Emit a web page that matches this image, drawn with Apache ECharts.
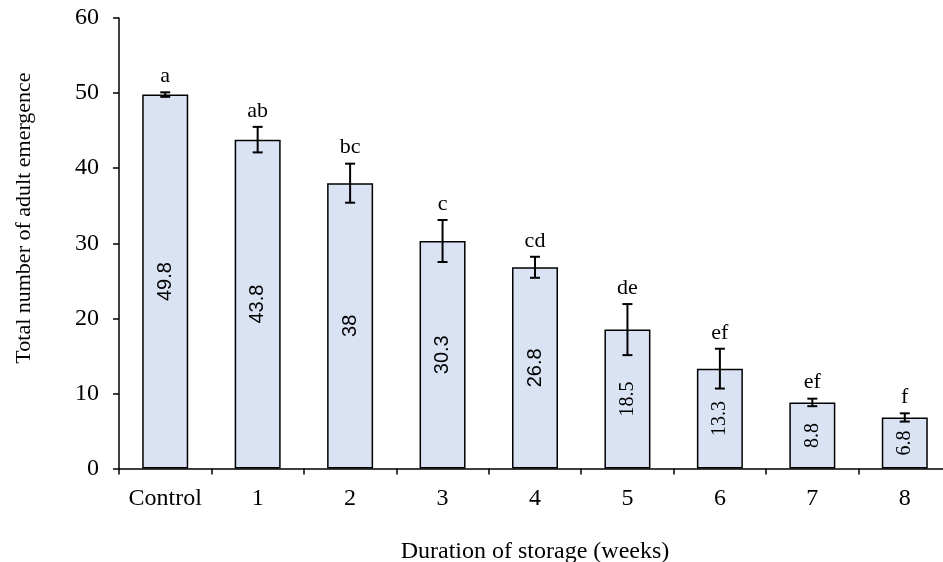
<!DOCTYPE html>
<html>
<head>
<meta charset="utf-8">
<script src="https://cdn.jsdelivr.net/npm/echarts@6/dist/echarts.min.js"></script>
<style>
html,body{margin:0;padding:0;background:#fff;}
#chart{width:943px;height:562px;}
</style>
</head>
<body>
<div id="chart"></div>
<script>
const categories = ['Control', '1', '2', '3', '4', '5', '6', '7', '8'];
const values = [49.8, 43.8, 38, 30.3, 26.8, 18.5, 13.3, 8.8, 6.8];
const errors = [0.3, 1.7, 2.6, 2.8, 1.4, 3.4, 2.65, 0.5, 0.55];
const letters = ['a', 'ab', 'bc', 'c', 'cd', 'de', 'ef', 'ef', 'f'];
const yTicks = [0, 10, 20, 30, 40, 50, 60];

const SERIF = '"Liberation Serif", "Times New Roman", serif';
const SANS = '"Liberation Sans", Arial, sans-serif';

const chart = echarts.init(document.getElementById('chart'), null, {renderer: 'canvas'});

const barData = values.map((v, i) => ({
  value: v,
  label: { fontFamily: i < 5 ? SANS : SERIF }
}));

const option = {
  animation: false,
  backgroundColor: '#ffffff',
  grid: { left: 119, right: -8, top: 18, bottom: 93.5, containLabel: false, outerBoundsMode: 'none' },
  xAxis: {
    type: 'category',
    data: categories,
    boundaryGap: true,
    axisLine: { show: true, lineStyle: { color: '#000', width: 1.5 } },
    axisTick: { show: true, inside: false, length: 6, interval: 0, alignWithLabel: false, lineStyle: { color: '#000', width: 1.5 } },
    axisLabel: { interval: 0, margin: 18, fontSize: 24, color: '#000', fontFamily: SERIF },
    name: 'Duration of storage (weeks)',
    nameLocation: 'middle',
    nameGap: 71,
    nameTextStyle: { fontSize: 24, color: '#000', fontFamily: SERIF },
    splitLine: { show: false }
  },
  yAxis: {
    type: 'value',
    min: yTicks[0],
    max: yTicks[yTicks.length - 1],
    interval: yTicks[1] - yTicks[0],
    axisLine: { show: true, lineStyle: { color: '#000', width: 1.5 } },
    axisTick: { show: true, inside: false, length: 6, lineStyle: { color: '#000', width: 1.5 } },
    axisLabel: { margin: 20, fontSize: 24, color: '#000', fontFamily: SERIF },
    splitLine: { show: false }
  },
  graphic: [{
    type: 'text',
    x: 24,
    y: 218,
    rotation: Math.PI / 2,
    style: {
      text: 'Total number of adult emergence',
      font: '22px ' + SERIF,
      fill: '#000',
      textAlign: 'center',
      textVerticalAlign: 'middle'
    }
  }],
  series: [
    {
      type: 'bar',
      data: barData,
      barWidth: 46,
      itemStyle: { color: '#dae3f3', borderColor: '#000', borderWidth: 1.5 },
      label: {
        show: true,
        position: 'inside',
        rotate: 90,
        fontSize: 20,
        color: '#000',
        formatter: p => String(values[p.dataIndex])
      },
      z: 2
    },
    {
      type: 'custom',
      data: values.map((v, i) => [i, v, errors[i]]),
      z: 5,
      renderItem: function (params, api) {
        const i = api.value(0);
        const v = api.value(1);
        const e = api.value(2);
        const top = api.coord([i, v + e]);
        const bot = api.coord([i, v - e]);
        const half = 5;
        const st = { stroke: '#000', lineWidth: 2 };
        return {
          type: 'group',
          children: [
            { type: 'line', shape: { x1: top[0], y1: top[1], x2: bot[0], y2: bot[1] }, style: st },
            { type: 'line', shape: { x1: top[0] - half, y1: top[1], x2: top[0] + half, y2: top[1] }, style: st },
            { type: 'line', shape: { x1: bot[0] - half, y1: bot[1], x2: bot[0] + half, y2: bot[1] }, style: st },
            {
              type: 'text',
              x: top[0],
              y: top[1] - 5,
              style: {
                text: letters[params.dataIndex],
                font: '22px ' + SERIF,
                fill: '#000',
                textAlign: 'center',
                textVerticalAlign: 'bottom'
              }
            }
          ]
        };
      }
    }
  ]
};

chart.setOption(option);
</script>
</body>
</html>
